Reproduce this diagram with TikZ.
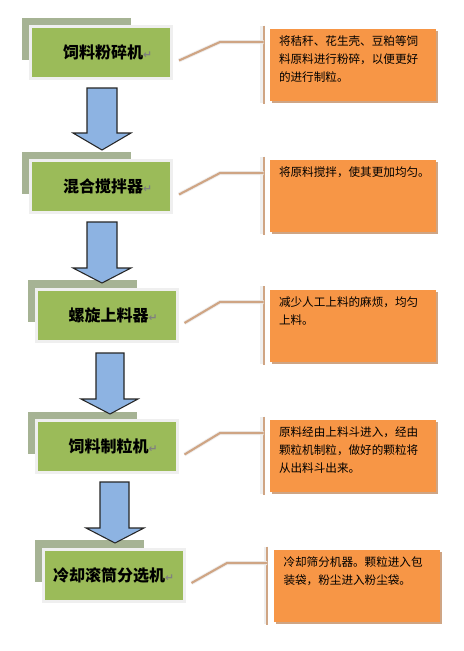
\documentclass[tikz,border=0pt]{standalone}
\usepackage{fontspec}
\usetikzlibrary{shadows}
\newfontfamily\cjk{Noto Sans CJK SC}
\newfontfamily\symfont{DejaVu Sans}
\definecolor{boxgreen}{HTML}{9BBB59}
\definecolor{shadegreen}{HTML}{A6B394}
\definecolor{noteorange}{HTML}{F79646}
\definecolor{tanline}{HTML}{CFA584}
\definecolor{arrowblue}{HTML}{8DB3E2}
\definecolor{rimgray}{HTML}{EFEFEF}
\newcommand\pmark{{\symfont\fontsize{8}{8}\selectfont\textcolor{gray}{↵}}}
\newcommand\padl{\hspace*{10pt}}
\begin{document}
\begin{tikzpicture}[x=0.75pt,y=-0.75pt,
  shadebox/.style={fill=shadegreen, draw=none, minimum width=81.75pt, minimum height=31.5pt, inner sep=0pt},
  titlebox/.style={fill=boxgreen, draw=rimgray, line width=2.25pt, minimum width=105.75pt, minimum height=39pt, inner sep=0pt, font=\cjk\bfseries\fontsize{12}{14}\selectfont},
  notebox/.style={fill=noteorange, draw=none, minimum width=124.5pt, minimum height=54pt, inner sep=0pt,
     drop shadow={shadow xshift=1.5pt, shadow yshift=-1.5pt, fill=tanline, opacity=1}},
  notetext/.style={anchor=north west, inner sep=0pt, align=left, font=\cjk\fontsize{8.7}{13.5}\selectfont},
  connrim/.style={draw=rimgray, line width=3pt},
  conn/.style={draw=tanline, line width=1.6pt},
  bracketrim/.style={draw=rimgray, line width=2pt},
  bracket/.style={draw=tanline, line width=1.2pt},
  flowarrow/.style={fill=arrowblue, draw=black!85, line width=0.8pt, line join=miter}]
\useasboundingbox[fill=white] (0,0) rectangle (464,651);

% ---------- title boxes ----------
\node[shadebox] (g1) at (76.5,38.5) {};
\node[titlebox] (t1) at (101,52.5) {\padl 饲料粉碎机\pmark};
\node[shadebox] (g2) at (76.5,172.5) {};
\node[titlebox] (t2) at (101,186.5) {\padl 混合搅拌器\pmark};
\node[shadebox] (g3) at (82,301) {};
\node[titlebox] (t3) at (106.5,315) {\padl 螺旋上料器\pmark};
\node[shadebox] (g4) at (82,432.5) {};
\node[titlebox] (t4) at (106.5,446.5) {\padl 饲料制粒机\pmark};
\node[shadebox] (g5) at (89,561) {};
\node[titlebox] (t5) at (113.5,575) {冷却滚筒分选机\pmark};

% ---------- note boxes ----------
\node[notebox] (n1) at (353,65) {};
\node[notetext] (d1) at ([shift={(9,7)}]n1.north west) {将秸秆、花生壳、豆粕等饲\\料原料进行粉碎，以便更好\\的进行制粒。};
\node[notebox] (n2) at (353,196) {};
\node[notetext] (d2) at ([shift={(9,7)}]n2.north west) {将原料搅拌，使其更加均匀。};
\node[notebox] (n3) at (353,325.5) {};
\node[notetext] (d3) at ([shift={(9,7)}]n3.north west) {减少人工上料的麻烦，均匀\\上料。};
\node[notebox] (n4) at (353,456) {};
\node[notetext] (d4) at ([shift={(9,7)}]n4.north west) {原料经由上料斗进入，经由\\颗粒机制粒，做好的颗粒将\\从出料斗出来。};
\node[notebox] (n5) at (356.5,586) {};
\node[notetext] (d5) at ([shift={(10,7)}]n5.north west) {冷却筛分机器。颗粒进入包\\装袋，粉尘进入粉尘袋。};

% ---------- brackets and connectors ----------
\foreach \i/\kx/\ky in {1/220/42, 2/220/173, 3/220/302, 4/220/433, 5/227/563}{
  \coordinate (b\i) at ([xshift=-4.5pt]n\i.west);
  \coordinate (k\i) at (\kx,\ky);
  \draw[bracketrim] ([shift={(-8,-3)}]n\i.north west) -- ([shift={(-8,2)}]n\i.south west);
  \draw[bracket] ([shift={(-6,-3)}]n\i.north west) -- ([shift={(-6,3)}]n\i.south west);
  \draw[connrim, yshift=2pt] ([shift={(6,8)}]t\i.east) -- (k\i) -- (k\i -| b\i);
  \draw[conn] ([shift={(6,8)}]t\i.east) -- (k\i) -- (k\i -| b\i);
}

% ---------- flow arrows ----------
\draw[flowarrow] (87,88) -- (117,88) -- (117,133) -- (131,133) -- (102,150) -- (73,133) -- (87,133) -- cycle;
\draw[flowarrow] (87,222) -- (117,222) -- (117,268) -- (131,268) -- (102,283) -- (73,268) -- (87,268) -- cycle;
\draw[flowarrow] (96,353) -- (124,353) -- (124,399) -- (138,399) -- (110,414) -- (81,399) -- (96,399) -- cycle;
\draw[flowarrow] (100,482) -- (129,482) -- (129,528) -- (144,528) -- (115,543) -- (86,528) -- (100,528) -- cycle;
\end{tikzpicture}
\end{document}
